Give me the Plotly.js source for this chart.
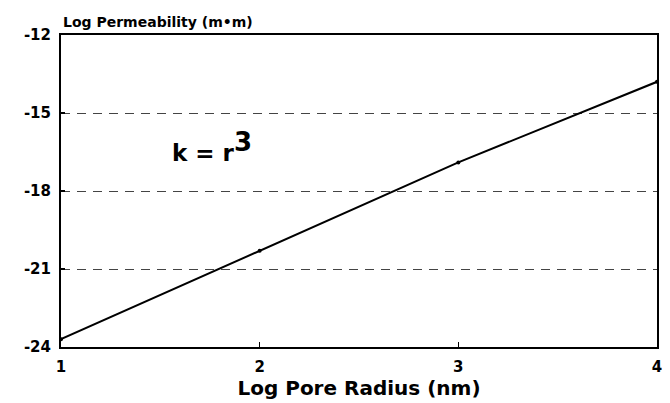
<!DOCTYPE html>
<html>
<head>
<meta charset="utf-8">
<script src="https://cdn.plot.ly/plotly-3.0.1.min.js"></script>
<style>html,body{margin:0;padding:0;background:#fff;}#chart{width:670px;height:403px;}</style>
</head>
<body>
<div id="chart"></div>
<script>
// Log pore radius (nm) vs log permeability
const logRadius = [1, 2, 3, 4];
const logPermeability = [-23.7, -20.3, -16.9, -13.8];
const xTicks = [1, 2, 3, 4];
const yTicks = [-24, -21, -18, -15, -12];

const font = "DejaVu Sans, Verdana, sans-serif";

const trace = {
  x: logRadius,
  y: logPermeability,
  mode: "lines+markers",
  line: {color: "#000", width: 2},
  marker: {color: "#000", size: 4},
  showlegend: false,
  hoverinfo: "skip"
};

const layout = {
  width: 670,
  height: 403,
  margin: {l: 61, r: 13, t: 35, b: 56},
  paper_bgcolor: "#fff",
  plot_bgcolor: "#fff",
  font: {family: font, color: "#000"},
  xaxis: {
    range: [1, 4],
    tickvals: xTicks,
    ticktext: xTicks.map(v => "<b>" + v + "</b>"),
    ticks: "inside",
    ticklen: 5,
    tickwidth: 1.5,
    tickcolor: "#000",
    ticklabelstandoff: 5,
    showgrid: false,
    zeroline: false,
    showline: true,
    linewidth: 2,
    linecolor: "#000",
    mirror: true,
    tickfont: {family: font, size: 15, weight: 700},
    title: {text: "<b>Log Pore Radius (nm)</b>", font: {family: font, size: 20, weight: 700}, standoff: 3}
  },
  yaxis: {
    range: [-24, -12],
    tickvals: yTicks,
    ticktext: yTicks.map(v => "<b>-" + Math.abs(v) + "</b>"),
    ticks: "inside",
    ticklen: 4,
    tickwidth: 1.5,
    tickcolor: "#000",
    ticklabelstandoff: 5,
    showgrid: true,
    gridcolor: "#444",
    gridwidth: 1,
    griddash: "9px,7px",
    zeroline: false,
    showline: true,
    linewidth: 2,
    linecolor: "#000",
    mirror: true,
    tickfont: {family: font, size: 15, weight: 700}
  },
  annotations: [
    {
      text: "<b>Log Permeability (m•m)</b>",
      xref: "paper", yref: "paper",
      x: 0, y: 1, xanchor: "left", yanchor: "bottom",
      yshift: 3,
      showarrow: false,
      font: {family: font, size: 14, color: "#000", weight: 700}
    },
    {
      text: "<b>k = r<sup><span style='font-size:26px'>3</span></sup></b>",
      xref: "x", yref: "y",
      x: 1.55, y: -16.3,
      xanchor: "left", yanchor: "middle",
      showarrow: false,
      font: {family: font, size: 23, color: "#000", weight: 700}
    }
  ]
};

Plotly.newPlot("chart", [trace], layout, {displayModeBar: false, staticPlot: true});
</script>
</body>
</html>
